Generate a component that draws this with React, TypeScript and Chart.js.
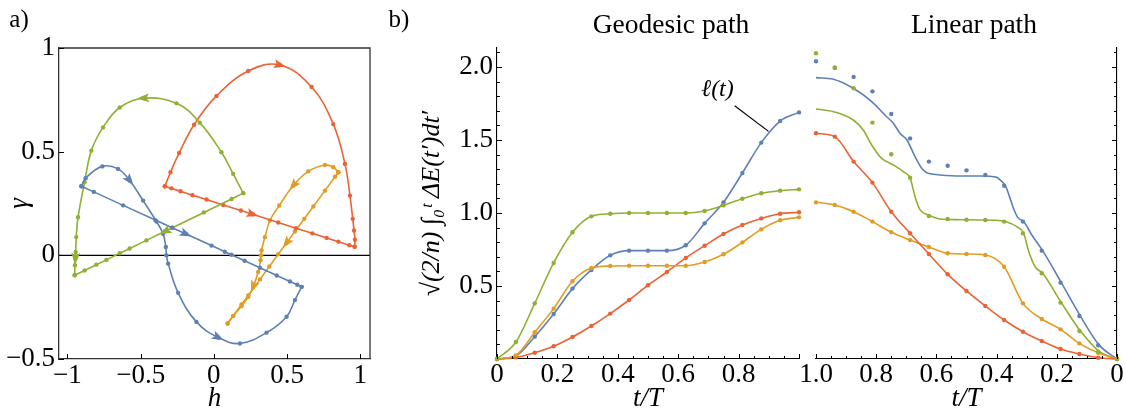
import React, { useEffect, useRef } from "react";
import { Chart, registerables } from "chart.js";
Chart.register(...registerables);

const SERIF = "'Liberation Serif', 'DejaVu Serif', 'Times New Roman', Times, serif";
const BLUE = "#5E81B5";
const ORANGE = "#E19C24";
const GREEN = "#8FB032";
const RED = "#EB6235";

// ---------------- Panel a) : paths in the (h, gamma) plane ----------------
const blueGeoH = [-0.905, -0.876, -0.762, -0.655, -0.575, -0.483, -0.392, -0.347, -0.328, -0.324, -0.312, -0.244, -0.119, 0.030, 0.178, 0.360, 0.497, 0.554, 0.600];
const blueGeoG = [0.333, 0.372, 0.429, 0.417, 0.361, 0.264, 0.163, 0.104, 0.040, 0.0, -0.040, -0.181, -0.321, -0.396, -0.425, -0.373, -0.296, -0.216, -0.152];
const blueGeoArrows = [4, 13];
const blueLinH = [-0.905, -0.82, -0.62, -0.40, -0.285, -0.19, -0.016, 0.075, 0.12, 0.21, 0.315, 0.43, 0.52, 0.57, 0.60];
const blueLinG = [0.333, 0.306, 0.241, 0.170, 0.133, 0.103, 0.047, 0.017, 0.003, -0.026, -0.060, -0.097, -0.126, -0.142, -0.152];
const blueLinArrows = [5];

const greenGeoH = [0.201, 0.132, 0.052, -0.096, -0.255, -0.483, -0.643, -0.757, -0.837, -0.883, -0.928, -0.940, -0.944, -0.946, -0.949, -0.951];
const greenGeoG = [0.300, 0.393, 0.497, 0.640, 0.733, 0.758, 0.713, 0.617, 0.505, 0.353, 0.184, 0.088, 0.016, -0.016, -0.048, -0.096];
const greenGeoArrows = [5, 13];
const greenLinH = [0.201, 0.121, -0.068, -0.283, -0.333, -0.461, -0.575, -0.643, -0.734, -0.803, -0.883, -0.951];
const greenLinG = [0.300, 0.272, 0.207, 0.133, 0.116, 0.072, 0.033, 0.010, -0.022, -0.045, -0.073, -0.096];
const greenLinArrows = [4];

const redGeoH = [-0.335, -0.296, -0.237, -0.135, 0.018, 0.235, 0.452, 0.668, 0.816, 0.896, 0.930, 0.949, 0.958, 0.964, 0.962];
const redGeoG = [0.333, 0.401, 0.494, 0.630, 0.769, 0.889, 0.918, 0.812, 0.633, 0.441, 0.288, 0.176, 0.120, 0.075, 0.042];
const redGeoArrows = [6];
const redLinH = [-0.335, -0.290, -0.228, -0.146, -0.050, 0.064, 0.185, 0.265, 0.440, 0.561, 0.673, 0.771, 0.851, 0.926, 0.962];
const redLinG = [0.333, 0.323, 0.309, 0.290, 0.269, 0.243, 0.216, 0.198, 0.158, 0.131, 0.106, 0.084, 0.066, 0.049, 0.042];
const redLinArrows = [7];

const orangeGeoH = [0.851, 0.816, 0.759, 0.645, 0.543, 0.447, 0.383, 0.349, 0.326, 0.322, 0.319, 0.303, 0.269, 0.235, 0.189, 0.132, 0.094];
const orangeGeoG = [0.401, 0.425, 0.436, 0.405, 0.337, 0.240, 0.168, 0.088, 0.024, 0.0, -0.024, -0.080, -0.152, -0.200, -0.245, -0.293, -0.329];
const orangeGeoArrows = [4, 12];
const orangeLinH = [0.851, 0.828, 0.759, 0.680, 0.618, 0.554, 0.497, 0.440, 0.379, 0.315, 0.235, 0.189, 0.132, 0.094];
const orangeLinG = [0.401, 0.379, 0.312, 0.236, 0.176, 0.115, 0.060, 0.005, -0.054, -0.116, -0.193, -0.237, -0.292, -0.329];
const orangeLinArrows = [6];

const aXTicks = [-1, -0.5, 0, 0.5, 1];
const aXTickLabels = ["\u22121", "\u22120.5", "0", "0.5", "1"];
const aYTicks = [-0.5, 0, 0.5, 1];
const aYTickLabels = ["\u22120.5", "0", "0.5", "1"];

// ---------------- Panel b) : cumulative measure vs t/T ----------------
const tSamples = [0, 0.0625, 0.125, 0.1875, 0.25, 0.3125, 0.375, 0.4375, 0.5, 0.5625, 0.625, 0.6875, 0.75, 0.8125, 0.875, 0.9375, 1];

const geoBlue = [0, 0.02, 0.153, 0.308, 0.482, 0.610, 0.710, 0.742, 0.742, 0.742, 0.779, 0.929, 1.073, 1.274, 1.482, 1.630, 1.689];
const geoOrange = [0, 0.025, 0.183, 0.345, 0.532, 0.623, 0.637, 0.639, 0.639, 0.639, 0.639, 0.664, 0.717, 0.799, 0.888, 0.950, 0.970];
const geoGreen = [0, 0.116, 0.381, 0.658, 0.868, 0.977, 0.995, 1.0, 1.0, 1.0, 1.0, 1.014, 1.052, 1.098, 1.135, 1.153, 1.162];
const geoRed = [0, 0.011, 0.043, 0.087, 0.151, 0.226, 0.311, 0.404, 0.505, 0.596, 0.692, 0.776, 0.856, 0.918, 0.963, 0.995, 1.005];

const linBlueDots = [0, 0.094, 0.295, 0.523, 0.742, 0.941, 1.187, 1.260, 1.292, 1.324, 1.352, 1.511, 1.678, 1.833, 1.932, 1.995, 2.039];
const linGreenDots = [0, 0.050, 0.192, 0.386, 0.587, 0.861, 0.941, 0.952, 0.954, 0.959, 0.979, 1.242, 1.402, 1.619, 1.854, 1.995, 2.094];
const linRed = [0, 0.009, 0.034, 0.068, 0.123, 0.187, 0.267, 0.363, 0.466, 0.580, 0.719, 0.861, 1.009, 1.208, 1.352, 1.523, 1.546];
const linOrange = [0, 0.043, 0.107, 0.203, 0.274, 0.381, 0.632, 0.712, 0.719, 0.724, 0.767, 0.815, 0.868, 0.941, 1.009, 1.055, 1.073];

const linBlueCurveT = [0, 0.059, 0.122, 0.185, 0.247, 0.283, 0.310, 0.330, 0.344, 0.355, 0.371, 0.388, 0.399, 0.455, 0.521, 0.588, 0.610, 0.632, 0.649, 0.671, 0.698, 0.721, 0.743, 0.771, 0.815, 0.876, 0.942, 1.0];
const linBlueCurveV = [0, 0.095, 0.295, 0.523, 0.742, 0.849, 0.941, 0.970, 1.032, 1.100, 1.187, 1.226, 1.244, 1.253, 1.253, 1.260, 1.265, 1.276, 1.306, 1.386, 1.500, 1.546, 1.614, 1.671, 1.763, 1.854, 1.916, 1.927];
const linGreenCurveT = [0, 0.059, 0.122, 0.185, 0.247, 0.272, 0.294, 0.310, 0.333, 0.371, 0.399, 0.455, 0.521, 0.588, 0.626, 0.654, 0.671, 0.687, 0.710, 0.743, 0.782, 0.815, 0.843, 0.876, 0.942, 1.0];
const linGreenCurveV = [0, 0.052, 0.193, 0.386, 0.587, 0.632, 0.742, 0.861, 0.906, 0.941, 0.950, 0.952, 0.954, 0.959, 0.986, 1.021, 1.112, 1.237, 1.283, 1.329, 1.374, 1.466, 1.568, 1.637, 1.694, 1.712];

const bXTicks = [0, 0.2, 0.4, 0.6, 0.8, 1];
const bXLeftLabels = ["0", "0.2", "0.4", "0.6", "0.8", ""];
const bXRightLabels = ["0", "0.2", "0.4", "0.6", "0.8", "1.0"];
const bYTicks = [0.5, 1, 1.5, 2];
const bYTickLabels = ["0.5", "1.0", "1.5", "2.0"];

const ellText = "\u2113(t)";
const ellTextAt = [0.73, 1.845];
const ellLineFrom = [0.787, 1.735];
const ellLineTo = [0.899, 1.559];

// ---------------- helpers ----------------
const pts = (xs: number[], ys: number[]) => xs.map((x, i) => ({ x, y: ys[i] }));
const lookup = (vals: number[], labels: string[]) => (v: any) => {
  const i = vals.findIndex((t) => Math.abs(t - Number(v)) < 1e-9);
  return i >= 0 ? labels[i] : "";
};

const innerTicks = (cfg: { x: [number, number][]; y: [number, number][]; ySide: "left" | "right" }) => ({
  id: "innerTicks",
  afterDraw(chart: any) {
    const { ctx, chartArea: ca, scales } = chart;
    ctx.save();
    ctx.strokeStyle = "#000";
    ctx.lineWidth = 1;
    cfg.x.forEach(([v, len]) => {
      const p = Math.round(scales.x.getPixelForValue(v)) + 0.5;
      ctx.beginPath();
      ctx.moveTo(p, ca.bottom);
      ctx.lineTo(p, ca.bottom - len);
      ctx.stroke();
    });
    cfg.y.forEach(([v, len]) => {
      const p = Math.round(scales.y.getPixelForValue(v)) + 0.5;
      const x0 = cfg.ySide === "right" ? ca.right : ca.left;
      const d = cfg.ySide === "right" ? -1 : 1;
      ctx.beginPath();
      ctx.moveTo(x0, p);
      ctx.lineTo(x0 + d * len, p);
      ctx.stroke();
    });
    ctx.restore();
  },
});

const arrowPlugin = (specs: { ds: number; idx: number[] }[]) => ({
  id: "arrows",
  afterDatasetsDraw(chart: any) {
    const ctx = chart.ctx;
    specs.forEach(({ ds, idx }) => {
      const meta = chart.getDatasetMeta(ds);
      const color = chart.data.datasets[ds].borderColor;
      idx.forEach((i) => {
        const n = meta.data.length;
        const p = meta.data[i];
        const a = meta.data[Math.max(i - 1, 0)];
        const b = meta.data[Math.min(i + 1, n - 1)];
        const ang = Math.atan2(b.y - a.y, b.x - a.x);
        ctx.save();
        ctx.translate(p.x, p.y);
        ctx.rotate(ang);
        ctx.beginPath();
        ctx.moveTo(6, 0);
        ctx.lineTo(-6, -4.5);
        ctx.lineTo(-3.5, 0);
        ctx.lineTo(-6, 4.5);
        ctx.closePath();
        ctx.fillStyle = color;
        ctx.fill();
        ctx.restore();
      });
    });
  },
});

const framePlugin = {
  id: "frameAndZero",
  beforeDatasetsDraw(chart: any) {
    const { ctx, chartArea: ca, scales } = chart;
    const y0 = scales.y.getPixelForValue(0);
    ctx.save();
    ctx.strokeStyle = "#000";
    ctx.lineWidth = 1.3;
    ctx.beginPath();
    ctx.moveTo(ca.left, y0);
    ctx.lineTo(ca.right, y0);
    ctx.stroke();
    ctx.restore();
  },
  afterDraw(chart: any) {
    const { ctx, chartArea: ca } = chart;
    ctx.save();
    ctx.strokeStyle = "#333";
    ctx.lineWidth = 1.3;
    ctx.beginPath();
    ctx.moveTo(ca.left, ca.top);
    ctx.lineTo(ca.right, ca.top);
    ctx.lineTo(ca.right, ca.bottom);
    ctx.stroke();
    ctx.restore();
  },
};

const ellPlugin = {
  id: "ellLabel",
  afterDraw(chart: any) {
    const { ctx, scales } = chart;
    const px = (v: number[]) => [scales.x.getPixelForValue(v[0]), scales.y.getPixelForValue(v[1])];
    const [x1, y1] = px(ellLineFrom);
    const [x2, y2] = px(ellLineTo);
    const [tx, ty] = px(ellTextAt);
    ctx.save();
    ctx.strokeStyle = "#000";
    ctx.lineWidth = 1.2;
    ctx.beginPath();
    ctx.moveTo(x1, y1);
    ctx.lineTo(x2, y2);
    ctx.stroke();
    ctx.fillStyle = "#000";
    ctx.font = `italic 24px ${SERIF}`;
    ctx.textAlign = "center";
    ctx.textBaseline = "middle";
    ctx.fillText(ellText, tx, ty);
    ctx.restore();
  },
};

const tickFont = { size: 27, family: SERIF };
const titleFont = { size: 27, family: SERIF, style: "italic" as const };

const line = (data: any[], color: string, extra: any = {}) => ({
  data,
  showLine: true,
  borderColor: color,
  backgroundColor: color,
  pointBackgroundColor: color,
  pointBorderWidth: 0,
  pointRadius: 2.2,
  borderWidth: 1.6,
  ...extra,
});

const baseOptions = (padding: any) => ({
  responsive: false,
  animation: false as const,
  events: [] as any[],
  layout: { padding, autoPadding: false },
  plugins: { legend: { display: false }, tooltip: { enabled: false } },
});

function configA(): any {
  const datasets = [
    line(pts(blueGeoH, blueGeoG), BLUE, { tension: 0.4 }),
    line(pts(blueLinH, blueLinG), BLUE, { tension: 0 }),
    line(pts(greenGeoH, greenGeoG), GREEN, { tension: 0.4 }),
    line(pts(greenLinH, greenLinG), GREEN, { tension: 0 }),
    line(pts(redGeoH, redGeoG), RED, { tension: 0.4 }),
    line(pts(redLinH, redLinG), RED, { tension: 0 }),
    line(pts(orangeGeoH, orangeGeoG), ORANGE, { tension: 0.4 }),
    line(pts(orangeLinH, orangeLinG), ORANGE, { tension: 0 }),
  ];
  return {
    type: "scatter",
    data: { datasets },
    options: {
      ...baseOptions({ top: 48, right: 10, left: 0, bottom: 0 }),
      scales: {
        x: {
          type: "linear",
          min: -1.058,
          max: 1.067,
          afterBuildTicks: (s: any) => { s.ticks = aXTicks.map((v) => ({ value: v })); },
          afterFit: (s: any) => { s.height = 59; s.paddingLeft = 0; s.paddingRight = 0; },
          ticks: { callback: lookup(aXTicks, aXTickLabels), font: tickFont, color: "#000", padding: 1, autoSkip: false, maxRotation: 0 },
          grid: { display: false, drawTicks: false },
          border: { display: true, color: "#333", width: 1.3 },
          title: { display: true, text: "h", font: titleFont, color: "#000", padding: { top: 0, bottom: 3 } },
        },
        y: {
          type: "linear",
          min: -0.5,
          max: 1.0,
          afterBuildTicks: (s: any) => { s.ticks = aYTicks.map((v) => ({ value: v })); },
          afterFit: (s: any) => { s.width = 59; s.paddingTop = 0; s.paddingBottom = 0; },
          ticks: { callback: lookup(aYTicks, aYTickLabels), font: tickFont, color: "#000", padding: 4, autoSkip: false },
          grid: { display: false, drawTicks: false },
          border: { display: true, color: "#333", width: 1.3 },
          title: { display: true, text: "\u03b3", font: titleFont, color: "#000", padding: { top: 4, bottom: 0 } },
        },
      },
    },
    plugins: [
      framePlugin,
      innerTicks({ x: aXTicks.map((v) => [v, 5] as [number, number]), y: aYTicks.map((v) => [v, 5] as [number, number]), ySide: "left" }),
      arrowPlugin([
        { ds: 0, idx: blueGeoArrows },
        { ds: 1, idx: blueLinArrows },
        { ds: 2, idx: greenGeoArrows },
        { ds: 3, idx: greenLinArrows },
        { ds: 4, idx: redGeoArrows },
        { ds: 5, idx: redLinArrows },
        { ds: 6, idx: orangeGeoArrows },
        { ds: 7, idx: orangeLinArrows },
      ]),
    ],
  };
}

const bMinorX: [number, number][] = [];
for (let i = 0; i <= 20; i++) bMinorX.push([i / 20, i % 4 === 0 ? 5 : 3]);
const bMinorY: [number, number][] = [];
for (let i = 1; i <= 21; i++) bMinorY.push([i / 10, i % 5 === 0 ? 5 : 3]);

const bXScale = (labels: string[], reverse: boolean) => ({
  type: "linear",
  min: 0,
  max: 1,
  reverse,
  afterBuildTicks: (s: any) => { s.ticks = bXTicks.map((v) => ({ value: v })); },
  afterFit: (s: any) => { s.height = 59; s.paddingLeft = 0; s.paddingRight = 0; },
  ticks: { callback: lookup(bXTicks, labels), font: tickFont, color: "#000", padding: 0, autoSkip: false, maxRotation: 0 },
  grid: { display: false, drawTicks: false },
  border: { display: true, color: "#000", width: 1.1 },
  title: { display: true, text: "t/T", font: titleFont, color: "#000", padding: { top: 0, bottom: 3 } },
});

function configBL(): any {
  const mono = { cubicInterpolationMode: "monotone", clip: false };
  return {
    type: "scatter",
    data: {
      datasets: [
        line(pts(tSamples, geoGreen), GREEN, mono),
        line(pts(tSamples, geoOrange), ORANGE, mono),
        line(pts(tSamples, geoRed), RED, mono),
        line(pts(tSamples, geoBlue), BLUE, mono),
      ],
    },
    options: {
      ...baseOptions({ top: 48, right: 6, left: 0, bottom: 0 }),
      scales: {
        x: bXScale(bXLeftLabels, false),
        y: {
          type: "linear",
          min: 0,
          max: 2.13,
          afterBuildTicks: (s: any) => { s.ticks = bYTicks.map((v) => ({ value: v })); },
          afterFit: (s: any) => { s.width = 117; s.paddingTop = 0; s.paddingBottom = 0; },
          ticks: { callback: lookup(bYTicks, bYTickLabels), font: tickFont, color: "#000", padding: 4, autoSkip: false },
          grid: { display: false, drawTicks: false },
          border: { display: true, color: "#000", width: 1.1 },
          title: {
            display: true,
            text: "\u221a(2/n) \u222b\u2080\u1d57 \u0394E(t\u2032)dt\u2032",
            font: { size: 26, family: SERIF, style: "italic" },
            color: "#000",
            padding: { top: 37, bottom: 0 },
          },
        },
      },
    },
    plugins: [innerTicks({ x: bMinorX, y: bMinorY, ySide: "left" }), ellPlugin],
  };
}

function configBR(): any {
  const mono = { cubicInterpolationMode: "monotone", clip: false };
  return {
    type: "scatter",
    data: {
      datasets: [
        line(pts(tSamples, linGreenDots), GREEN, { showLine: false, clip: false }),
        line(pts(tSamples, linBlueDots), BLUE, { showLine: false, clip: false }),
        line(pts(tSamples, linRed), RED, mono),
        line(pts(tSamples, linOrange), ORANGE, mono),
        line(pts(linGreenCurveT, linGreenCurveV), GREEN, { ...mono, pointRadius: 0 }),
        line(pts(linBlueCurveT, linBlueCurveV), BLUE, { ...mono, pointRadius: 0 }),
      ],
    },
    options: {
      ...baseOptions({ top: 48, right: 0, left: 31, bottom: 0 }),
      scales: {
        x: bXScale(bXRightLabels, true),
        y: {
          type: "linear",
          position: "right",
          min: 0,
          max: 2.13,
          afterFit: (s: any) => { s.width = 9; s.paddingTop = 0; s.paddingBottom = 0; },
          ticks: { display: false },
          grid: { display: false, drawTicks: false },
          border: { display: true, color: "#000", width: 1.1 },
          title: { display: false },
        },
      },
    },
    plugins: [innerTicks({ x: bMinorX, y: bMinorY, ySide: "right" })],
  };
}

const textStyle = (left: number, top: number, size: number): React.CSSProperties => ({
  position: "absolute",
  left,
  top,
  transform: "translate(-50%, -50%)",
  fontFamily: SERIF,
  fontSize: size,
  lineHeight: 1,
  whiteSpace: "nowrap",
  color: "#000",
});

export default function App() {
  const aRef = useRef<HTMLCanvasElement>(null);
  const blRef = useRef<HTMLCanvasElement>(null);
  const brRef = useRef<HTMLCanvasElement>(null);

  useEffect(() => {
    const charts = [
      new Chart(aRef.current as HTMLCanvasElement, configA()),
      new Chart(blRef.current as HTMLCanvasElement, configBL()),
      new Chart(brRef.current as HTMLCanvasElement, configBR()),
    ];
    return () => charts.forEach((c) => c.destroy());
  }, []);

  return (
    <div style={{ position: "absolute", left: 0, top: 0, width: 1126, height: 418, background: "#fff", overflow: "hidden" }}>
      <canvas ref={aRef} width={380} height={418} style={{ position: "absolute", left: 0, top: 0, width: 380, height: 418 }} />
      <canvas ref={blRef} width={425} height={418} style={{ position: "absolute", left: 380, top: 0, width: 425, height: 418 }} />
      <canvas ref={brRef} width={341} height={418} style={{ position: "absolute", left: 785, top: 0, width: 341, height: 418 }} />
      <div style={textStyle(19, 18, 25)}>a)</div>
      <div style={textStyle(399, 18, 25)}>b)</div>
      <div style={textStyle(671, 24, 27.5)}>Geodesic path</div>
      <div style={textStyle(974, 24, 27.5)}>Linear path</div>
    </div>
  );
}
